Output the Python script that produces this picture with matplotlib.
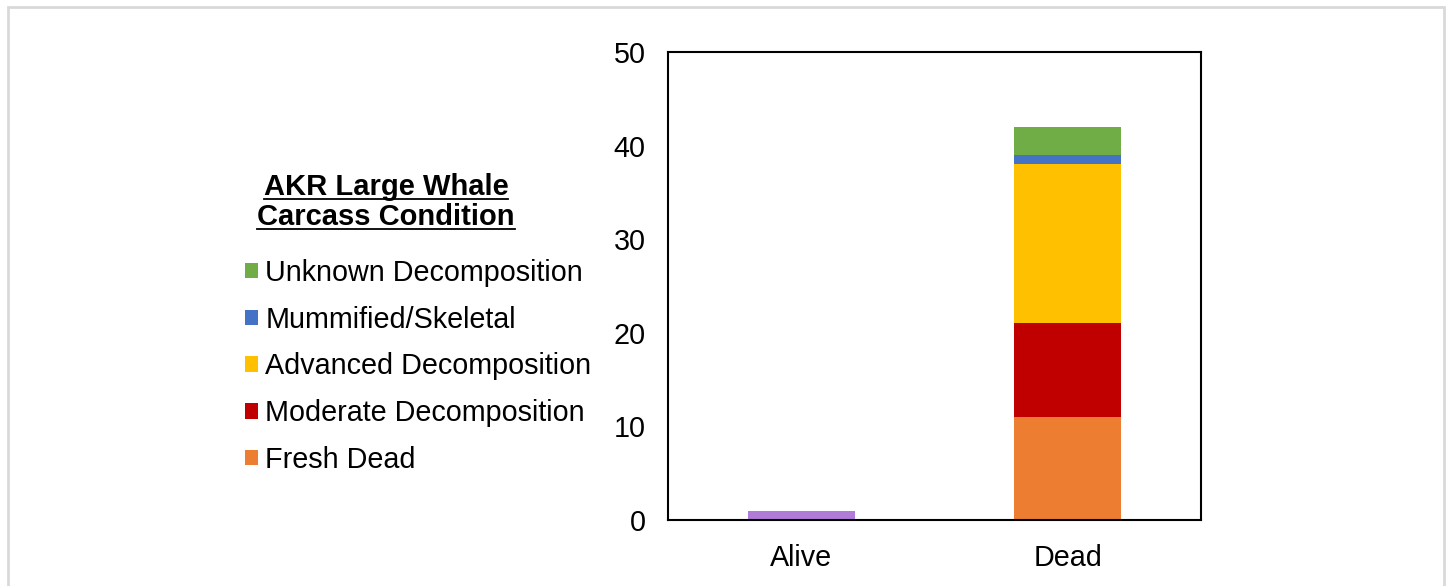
import matplotlib
matplotlib.use("Agg")
import matplotlib.pyplot as plt
from matplotlib.patches import Rectangle, Patch
from matplotlib.lines import Line2D

plt.rcParams['font.family'] = ['Liberation Sans', 'DejaVu Sans']

categories = ["Alive", "Dead"]
alive_values = [1, 0]
fresh_dead = [0, 11]
moderate_decomp = [0, 10]
advanced_decomp = [0, 17]
mummified = [0, 1]
unknown_decomp = [0, 3]

series = [
    ("Alive", alive_values, "#B07CD8"),
    ("Fresh Dead", fresh_dead, "#ED7D31"),
    ("Moderate Decomposition", moderate_decomp, "#C00000"),
    ("Advanced Decomposition", advanced_decomp, "#FFC000"),
    ("Mummified/Skeletal", mummified, "#4472C4"),
    ("Unknown Decomposition", unknown_decomp, "#70AD47"),
]
legend_order = ["Unknown Decomposition", "Mummified/Skeletal", "Advanced Decomposition",
                "Moderate Decomposition", "Fresh Dead"]

W, H = 1448, 586
fig = plt.figure(figsize=(W / 100, H / 100), dpi=100)
ax = fig.add_axes([668 / W, 1 - 520 / H, (1201 - 668) / W, (520 - 52) / H])

fs = 20.7
x = list(range(len(categories)))
bottom = [0] * len(categories)
colors = {}
for name, vals, col in series:
    ax.bar(x, vals, width=0.4, bottom=bottom, color=col, linewidth=0)
    bottom = [b + v for b, v in zip(bottom, vals)]
    colors[name] = col

ax.set_xlim(-0.5, 1.5)
ax.set_ylim(0, 50)
ax.set_yticks([0, 10, 20, 30, 40, 50])
ax.set_xticks(x)
ax.set_xticklabels(categories)
ax.tick_params(axis='both', length=0, labelsize=fs)
ax.tick_params(axis='y', pad=16)
ax.tick_params(axis='x', pad=17)
for s in ax.spines.values():
    s.set_linewidth(1.5)
    s.set_color("black")

handles = [Patch(facecolor=colors[n], edgecolor='none', label=n) for n in legend_order]
leg = fig.legend(handles=handles, loc='upper left', bbox_to_anchor=(245 / W, 1 - 259 / H),
                 frameon=False, fontsize=fs, handlelength=0.45, handleheight=0.45,
                 handletextpad=0.25, labelspacing=0.65, borderaxespad=0, borderpad=0)

# underlined legend heading
title_lines = ["AKR Large Whale", "Carcass Condition"]
title_y = [187, 217]
fig.canvas.draw()
renderer = fig.canvas.get_renderer()
for txt, yy in zip(title_lines, title_y):
    t = fig.text(386 / W, 1 - yy / H, txt, ha='center', va='center',
                 fontsize=21, fontweight='bold')
    bb = t.get_window_extent(renderer)
    uy = yy + 12
    fig.add_artist(Line2D([bb.x0 / W, bb.x1 / W], [1 - uy / H, 1 - uy / H],
                          transform=fig.transFigure, color='black', linewidth=1.3))

# outer frame
fig.add_artist(Rectangle((8 / W, -0.1), (1444 - 8) / W, 1.1 - 7 / H,
                         transform=fig.transFigure, fill=False,
                         edgecolor='#D9D9D9', linewidth=2))

fig.savefig("out.png", dpi=100)
